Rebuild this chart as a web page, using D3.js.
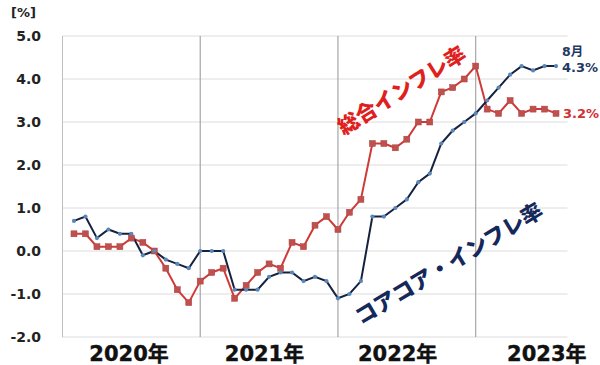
<!DOCTYPE html>
<html><head><meta charset="utf-8">
<script src="https://cdn.jsdelivr.net/npm/d3@7"></script>
<style>body{margin:0;background:#fff}svg{display:block}</style>
</head><body>
<svg id="c" width="600" height="365"></svg>
<script>
// Months: Feb 2020 .. Aug 2023
const startYear = 2020, startMonth = 2;
const headline = [0.4,0.4,0.1,0.1,0.1,0.3,0.2,0.0,-0.4,-0.9,-1.2,
  -0.7,-0.5,-0.4,-1.1,-0.8,-0.5,-0.3,-0.4,0.2,0.1,0.6,0.8,
  0.5,0.9,1.2,2.5,2.5,2.4,2.6,3.0,3.0,3.7,3.8,4.0,
  4.3,3.3,3.2,3.5,3.2,3.3,3.3,3.2];
const coreCore = [0.7,0.8,0.3,0.5,0.4,0.4,-0.1,0.0,-0.2,-0.3,-0.4,
  0.0,0.0,0.0,-0.9,-0.9,-0.9,-0.6,-0.5,-0.5,-0.7,-0.6,-0.7,
  -1.1,-1.0,-0.7,0.8,0.8,1.0,1.2,1.6,1.8,2.5,2.8,3.0,
  3.2,3.5,3.8,4.1,4.3,4.2,4.3,4.3];
const yTicks = [-2,-1,0,1,2,3,4,5];
const years = ["2020年","2021年","2022年","2023年"];
const headlineName = "総合インフレ率";
const coreName = "コアコア・インフレ率";
const lastMonthLabel = "8月";

const svg = d3.select("#c");
const x = d3.scaleLinear().domain([0,44]).range([62.5,567.5]);
const y = d3.scaleLinear().domain([-2,5]).range([337,36]);
const idx = i => (startMonth-1) + i; // months since Jan 2020

// horizontal gridlines
svg.append("g").selectAll("line").data(yTicks).join("line")
  .attr("x1",x(0)).attr("x2",x(44))
  .attr("y1",d=>y(d)).attr("y2",d=>y(d))
  .attr("stroke","#dcdcdc").attr("stroke-width",1);
// y axis line
svg.append("line").attr("x1",x(0)).attr("x2",x(0)).attr("y1",y(5)).attr("y2",y(-2))
  .attr("stroke","#bfbfbf").attr("stroke-width",1);
// year separators (January points)
svg.append("g").selectAll("line").data([1,2,3]).join("line")
  .attr("x1",d=>x(d*12)).attr("x2",d=>x(d*12))
  .attr("y1",y(5)).attr("y2",y(-2))
  .attr("stroke","#a6a6a6").attr("stroke-width",1.2);

// y tick labels
svg.append("g").selectAll("text").data(yTicks).join("text")
  .attr("x",41).attr("y",d=>y(d)+5)
  .attr("text-anchor","end")
  .attr("font-family","DejaVu Sans").attr("font-weight","bold").attr("font-size",14)
  .attr("fill","#222")
  .text(d=>d.toFixed(1));
svg.append("text").attr("x",11).attr("y",17)
  .attr("font-family","DejaVu Sans").attr("font-weight","bold").attr("font-size",13)
  .attr("fill","#222").text("[%]");

// year labels
const yearOffsets = [5.8,5.6,5.2,6.2];
svg.append("g").selectAll("text").data(years).join("text")
  .attr("x",(d,i)=>x(i*12+yearOffsets[i])).attr("y",361)
  .attr("text-anchor","middle")
  .attr("font-family","DejaVu Sans, 'Noto Sans CJK JP'").attr("font-weight","bold").attr("font-size",21)
  .attr("fill","#111").attr("stroke","#111").attr("stroke-width",0.4)
  .text(d=>d);

// lines
const line = d3.line().x((d,i)=>x(idx(i))).y(d=>y(d));
svg.append("path").datum(headline).attr("d",line)
  .attr("fill","none").attr("stroke","#d03a36").attr("stroke-width",2);
svg.append("path").datum(coreCore).attr("d",line)
  .attr("fill","none").attr("stroke","#14213f").attr("stroke-width",2);

// markers
svg.append("g").selectAll("rect").data(headline).join("rect")
  .attr("x",(d,i)=>x(idx(i))-3).attr("y",d=>y(d)-3)
  .attr("width",6).attr("height",6)
  .attr("fill","#c0504d").attr("stroke","#a94442").attr("stroke-width",0.5);
svg.append("g").selectAll("path").data(coreCore).join("path")
  .attr("transform",(d,i)=>`translate(${x(idx(i))},${y(d)})`)
  .attr("d",d3.symbol().type(d3.symbolCircle).size(14))
  .attr("fill","#5b86b8");

// end labels
const lastI = headline.length-1;
svg.append("text").attr("x",x(idx(lastI))+6).attr("y",56)
  .attr("font-family","DejaVu Sans, 'Noto Sans CJK JP'").attr("font-weight","bold").attr("font-size",12.5)
  .attr("fill","#1f3864").text(lastMonthLabel);
svg.append("text").attr("x",x(idx(lastI))+6).attr("y",y(coreCore[lastI])+6)
  .attr("font-family","DejaVu Sans").attr("font-weight","bold").attr("font-size",13)
  .attr("fill","#1f3864").text(coreCore[lastI].toFixed(1)+"%");
svg.append("text").attr("x",x(idx(lastI))+7).attr("y",y(headline[lastI])+5)
  .attr("font-family","DejaVu Sans").attr("font-weight","bold").attr("font-size",13)
  .attr("fill","#d03030").text(headline[lastI].toFixed(1)+"%");

// series annotations
svg.append("text").attr("transform","translate(401,89) rotate(-32)")
  .attr("text-anchor","middle").attr("dominant-baseline","central")
  .attr("font-family","'Noto Sans CJK JP'").attr("font-weight","900").attr("font-size",21)
  .attr("fill","#e0201c")
  .text(headlineName);
svg.append("text").attr("transform","translate(448,262) rotate(-31)")
  .attr("text-anchor","middle").attr("dominant-baseline","central")
  .attr("font-family","'Noto Sans CJK JP'").attr("font-weight","900").attr("font-size",21.5)
  .attr("fill","#15285a")
  .text(coreName);
</script>
</body></html>
